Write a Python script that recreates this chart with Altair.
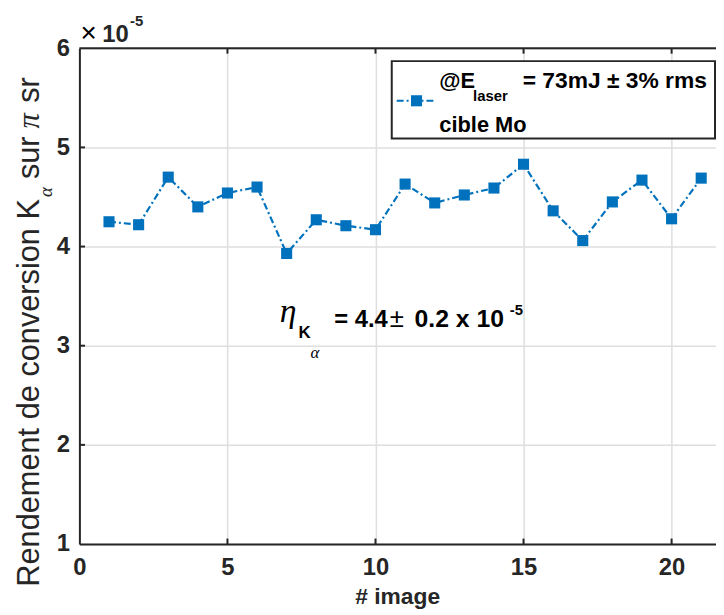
import altair as alt
import pandas as pd

# ---- data (values in units of 1e-5) ----
image_idx = list(range(1, 22))
rendement = [4.25, 4.22, 4.70, 4.40, 4.54, 4.60, 3.93, 4.27, 4.21, 4.17,
             4.63, 4.44, 4.52, 4.59, 4.83, 4.36, 4.06, 4.45, 4.67, 4.28, 4.69]
x_ticks = [0, 5, 10, 15, 20]
y_ticks = [1, 2, 3, 4, 5, 6]
x_domain = [0, 21.5]
y_domain = [1, 6]

BLUE = "#0072BD"
AX = "#262626"
GRID = "#dedede"
SANS = "Liberation Sans"
SERIF = "Liberation Serif"
W, H = 642, 500
OX, OY = 80, 46  # plot origin on the page (for annotation text)

df = pd.DataFrame({"image": image_idx, "rendement": rendement})
xs = alt.Scale(domain=x_domain, nice=False, zero=False)
ys = alt.Scale(domain=y_domain, nice=False, zero=False)

common_axis = dict(grid=True, gridColor=GRID, gridWidth=1.5, domainColor=AX,
                   domainWidth=2, ticks=False, tickSize=0, labelFont=SANS,
                   labelFontSize=24, labelFontWeight="bold", labelColor=AX,
                   labelFlush=False, labelOverlap=False,
                   title=None, format="d")
x_axis = alt.Axis(values=x_ticks, labelPadding=12, **common_axis)
y_axis = alt.Axis(values=y_ticks, labelPadding=10, **common_axis)

X = alt.X("image:Q", scale=xs, axis=x_axis)
Y = alt.Y("rendement:Q", scale=ys, axis=y_axis)

line = alt.Chart(df).mark_line(color=BLUE, strokeWidth=2.2,
                               strokeDash=[7, 3, 2, 3]).encode(x=X, y=Y)
pts = alt.Chart(df).mark_square(color=BLUE, size=125, opacity=1,
                                filled=True).encode(x="image:Q", y="rendement:Q")

# top border of the box
top_df = pd.DataFrame({"x": [x_domain[0]], "x2": [x_domain[1]], "y": [y_domain[1]]})
top = alt.Chart(top_df).mark_rule(color=AX, strokeWidth=2).encode(
    x=alt.X("x:Q", scale=xs), x2="x2:Q", y=alt.Y("y:Q", scale=ys))

# inward tick marks
tx = [t for t in x_ticks if t > 0]
bt = pd.DataFrame({"x": tx, "y": [y_domain[0]] * len(tx), "y2": [y_domain[0] + 0.055] * len(tx)})
tt = pd.DataFrame({"x": tx, "y": [y_domain[1]] * len(tx), "y2": [y_domain[1] - 0.055] * len(tx)})
ty = [t for t in y_ticks if y_domain[0] < t < y_domain[1]]
lt = pd.DataFrame({"y": ty, "x": [x_domain[0]] * len(ty), "x2": [x_domain[0] + 0.19] * len(ty)})
xticks_b = alt.Chart(bt).mark_rule(color=AX, strokeWidth=2).encode(
    x=alt.X("x:Q", scale=xs), y=alt.Y("y:Q", scale=ys), y2="y2:Q")
xticks_t = alt.Chart(tt).mark_rule(color=AX, strokeWidth=2).encode(
    x=alt.X("x:Q", scale=xs), y=alt.Y("y:Q", scale=ys), y2="y2:Q")
yticks_l = alt.Chart(lt).mark_rule(color=AX, strokeWidth=2).encode(
    y=alt.Y("y:Q", scale=ys), x=alt.X("x:Q", scale=xs), x2="x2:Q")

one = pd.DataFrame({"a": [0]})


def txt(s, px, py, size, weight="normal", style="normal", font=SANS,
        align="left", angle=0, color="black"):
    return alt.Chart(one).mark_text(
        text=s, font=font, fontSize=size, fontWeight=weight, fontStyle=style,
        align=align, baseline="alphabetic", angle=angle, color=color
    ).encode(x=alt.value(px - OX), y=alt.value(py - OY))


# legend box
leg_box = alt.Chart(one).mark_rect(fill="white", stroke=AX, strokeWidth=2).encode(
    x=alt.value(395 - OX), x2=alt.value(721 - OX),
    y=alt.value(59 - OY), y2=alt.value(137 - OY))
leg_line = alt.Chart(one).mark_rule(color=BLUE, strokeWidth=2.2,
                                    strokeDash=[7, 3, 2, 3]).encode(
    x=alt.value(400 - OX), x2=alt.value(440 - OX), y=alt.value(99 - OY))
leg_pt = alt.Chart(one).mark_square(color=BLUE, size=125, opacity=1, filled=True).encode(
    x=alt.value(420 - OX), y=alt.value(99 - OY))

texts = [
    # legend
    txt("@E", 443, 86, 22, "bold"),
    txt("laser", 477, 99, 15, "bold"),
    txt("= 73mJ \u00b1 3% rms", 527, 86, 23, "bold"),
    txt("cible Mo", 443, 130, 22, "bold"),
    # exponent label
    txt("\u00d7", 81, 40, 28),
    txt("10", 103, 40, 24, "bold", color=AX),
    txt("-5", 131, 24, 15, "bold", color=AX),
    # eta annotation
    txt("\u03b7", 282, 322, 34, style="italic", font=SERIF),
    txt("K", 301, 338, 17, "bold"),
    txt("\u03b1", 313, 358, 17, style="italic", font=SERIF),
    txt("= 4.4", 337, 327, 24, "bold"),
    txt("\u00b1", 393, 327, 26),
    txt("0.2 x 10", 418, 327, 25, "bold"),
    txt("-5", 514, 315, 15, "bold"),
    # y title (rotated, reads bottom to top)
    txt("Rendement de conversion K", 39, 589, 31, angle=270, color=AX),
    txt("\u03b1", 52, 191, 19, style="italic", font=SERIF, align="center", angle=270, color=AX),
    txt("sur", 39, 178, 31, angle=270, color=AX),
    txt("\u03c0", 39, 127, 31, style="italic", font=SERIF, angle=270, color=AX),
    txt("sr", 39, 101, 31, angle=270, color=AX),
    # x title
    txt("# image", 401, 606, 23, "bold", align="center", color=AX),
]

chart = alt.layer(
    line, pts, top, xticks_b, xticks_t, yticks_l, leg_box, leg_line, leg_pt, *texts
).properties(
    width=W, height=H,
    autosize=alt.AutoSizeParams(type="none"),
    padding={"left": 72, "top": 38, "right": 0, "bottom": 68},
).configure_view(stroke=None).configure(background="white")

chart.save("out.html", embed_options={"renderer": "svg", "actions": False})
